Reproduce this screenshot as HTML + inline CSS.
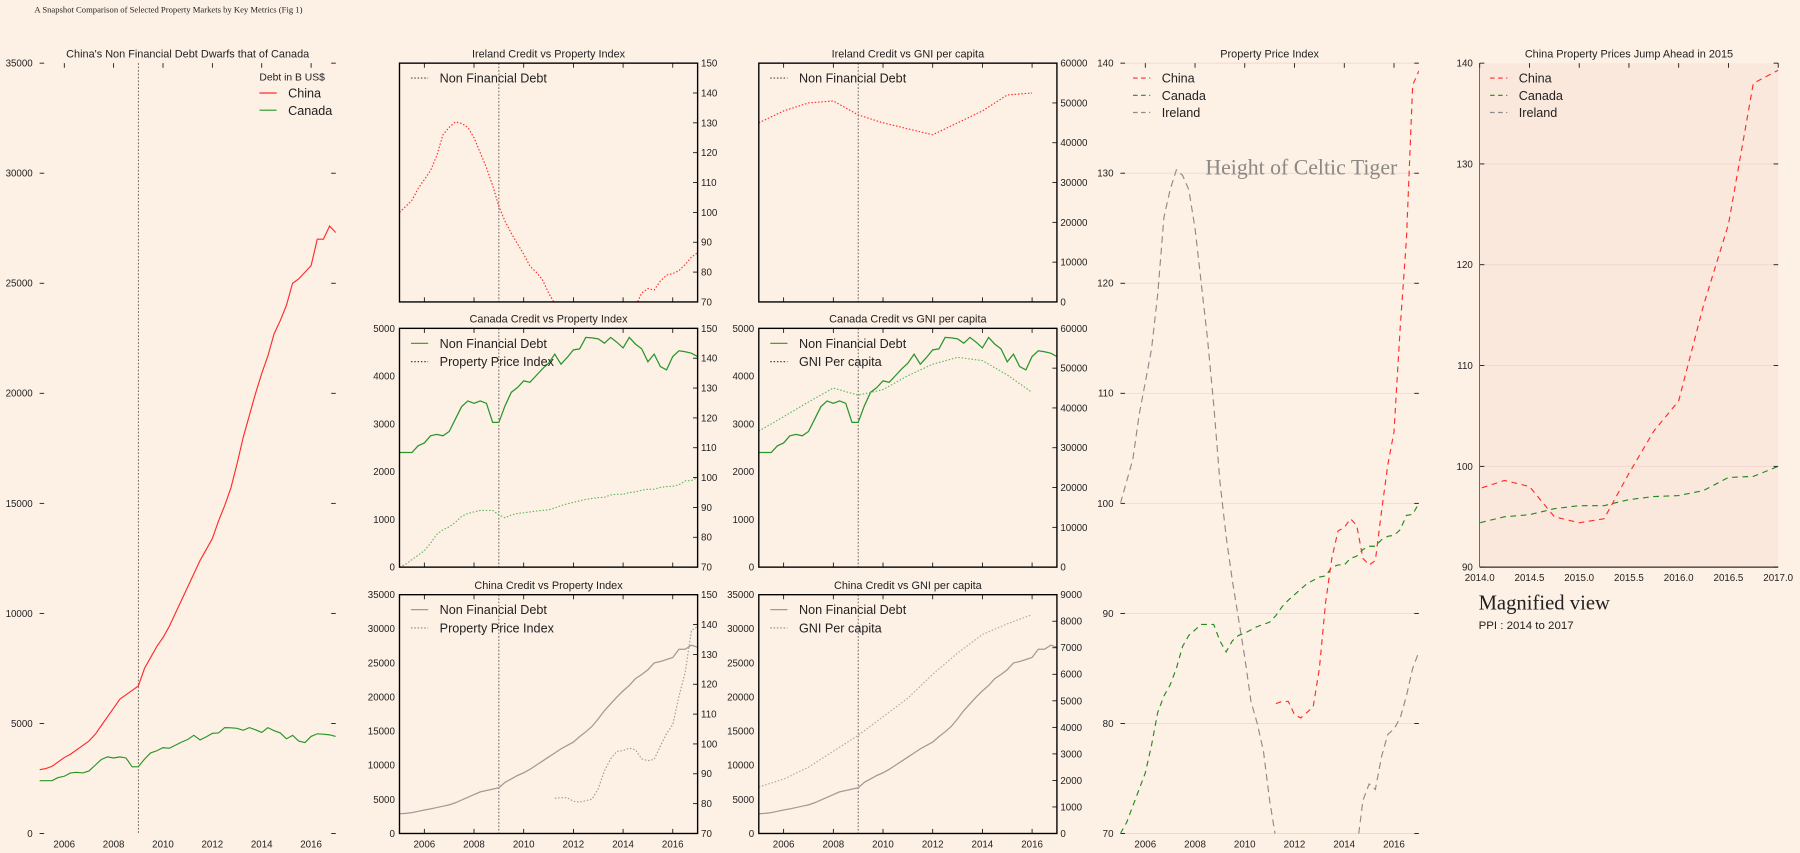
<!DOCTYPE html>
<html><head><meta charset="utf-8">
<style>
html,body{margin:0;padding:0;background:#fdf1e6;width:1800px;height:853px;overflow:hidden;}
svg{display:block;}
text{font-family:"Liberation Sans",sans-serif;fill:#222;}
.serif{font-family:"Liberation Serif",serif;}
</style></head>
<body>
<svg id="fig" xmlns="http://www.w3.org/2000/svg" width="1800" height="853" viewBox="0 0 1568 743" preserveAspectRatio="none">
<rect x="0" y="0" width="1568" height="743" fill="#fdf1e6"/>
<text class="serif" x="30" y="11" font-size="7.5">A Snapshot Comparison of Selected Property Markets by Key Metrics (Fig 1)</text>
</svg>
<script>
const quarters = Array.from({length:49},(_,i)=>2005+i/4);
const years = [2005,2006,2007,2008,2009,2010,2011,2012,2013,2014,2015,2016];
const chinaDebt = [2900,2950,3050,3250,3450,3600,3800,4000,4200,4500,4900,5300,5700,6100,6300,6500,6700,7500,8000,8500,8900,9400,10000,10600,11200,11800,12400,12900,13400,14200,14900,15700,16800,18000,19000,20000,20900,21700,22700,23300,24000,25000,25200,25500,25800,27000,27000,27600,27300];
const canadaDebt = [2400,2400,2400,2540,2600,2750,2780,2750,2840,3100,3360,3480,3430,3480,3430,3030,3030,3380,3660,3760,3900,3870,4010,4150,4270,4460,4250,4390,4550,4570,4810,4800,4780,4690,4810,4710,4590,4810,4670,4570,4300,4460,4200,4130,4410,4530,4510,4480,4410];
const irelandPPI = [100,102,104,108,111,114,119,126,128.5,130.3,129.8,128.5,125,120,115,109,102,97,93,89.5,86,82,80,77.5,73,69.5,67,66,65,64,63,62.5,62,62,62.5,63,64,66,68.5,73,74.5,74,77,79,79.5,80.5,82.5,85,86.5];
const canadaPPI = [70,71,72.5,74,75.5,78,81,82.5,83.5,85,87,88,88.5,89,89,89,87.5,86.5,87.5,88,88.2,88.5,88.8,89,89.2,89.8,90.6,91.2,91.7,92.2,92.7,93,93.3,93.4,94.2,94.4,94.4,95,95.2,95.8,96.1,96.1,96.7,97,97.1,97.6,98.9,99,100];
const chinaPPIQuarters = quarters.slice(25);
const chinaPPI = [81.8,82,82,80.8,80.5,81,81.5,85,91,95,97.5,97.8,98.6,98,95,94.4,94.8,99.3,103.5,106.5,116,124,138,139.3];
const irelandGNI = [45000,48000,50000,50500,47000,45000,43500,42000,45000,48000,52000,52500];
const canadaGNI = [34200,37800,41500,45000,43200,44600,48100,51000,52700,51900,48300,43900];
const chinaGNI = [1750,2050,2500,3100,3700,4400,5100,6000,6800,7500,7900,8250];
const yearTicks = [2006,2008,2010,2012,2014,2016];
const zoomTicks = [2014,2014.5,2015,2015.5,2016,2016.5,2017];

const NS='http://www.w3.org/2000/svg';
const svg=document.getElementById('fig');
let clipN=0;
function el(tag,attrs,parent,name){
  const e=document.createElementNS(NS,tag);
  for(const k in attrs) e.setAttribute(k,attrs[k]);
  
  
  (parent||svg).appendChild(e);
  return e;
}
function txt(x,y,s,size,anchor,parent,name,extra){
  const t=el('text',Object.assign({x:x,y:y,'font-size':size,'text-anchor':anchor||'start'},extra||{}),parent,name);
  t.textContent=s;return t;
}
function axis(o){
  o.sx=v=>o.x0+(v-o.xmin)/(o.xmax-o.xmin)*(o.x1-o.x0);
  o.sy=v=>o.yb-(v-o.ymin)/(o.ymax-o.ymin)*(o.yb-o.yt);
  if(o.ymin2!==undefined) o.sy2=v=>o.yb-(v-o.ymin2)/(o.ymax2-o.ymin2)*(o.yb-o.yt);
  o.g=el('g',{},svg,o.name);
  const id='c'+(clipN++);
  const cp=el('clipPath',{id:id},o.g,'clip-region');
  el('rect',{x:o.x0,y:o.yt,width:o.x1-o.x0,height:o.yb-o.yt},cp,'clip-rect');
  o.clip='url(#'+id+')';
  if(o.bg) el('rect',{x:o.x0,y:o.yt,width:o.x1-o.x0,height:o.yb-o.yt,fill:o.bg},o.g,'plot-background');
  return o;
}
function series(ax,xs,ys,scale,color,dash,w,name){
  let d='';
  for(let i=0;i<ys.length;i++){d+=(i?'L':'M')+ax.sx(xs[i]).toFixed(2)+','+scale(ys[i]).toFixed(2);}
  const p=el('path',{d:d,fill:'none',stroke:color,'stroke-width':w||1,'clip-path':ax.clip},ax.g,name);
  if(dash) p.setAttribute('stroke-dasharray',dash);
  return p;
}
function vline(ax,x){
  el('line',{x1:ax.sx(x),x2:ax.sx(x),y1:ax.yt,y2:ax.yb,stroke:'#444','stroke-width':0.7,'stroke-dasharray':'1.5,1.5'},ax.g,'event-marker-2009');
}
function frame(ax){
  el('rect',{x:ax.x0,y:ax.yt,width:ax.x1-ax.x0,height:ax.yb-ax.yt,fill:'none',stroke:'#000','stroke-width':1.2},ax.g,'plot-frame');
}
function xticks(ax,ticks,labels,fmt){
  ticks.forEach(t=>{
    const x=ax.sx(t);
    el('line',{x1:x,x2:x,y1:ax.yt,y2:ax.yt+4,stroke:'#000','stroke-width':0.7},ax.g,'x-tick');
    if(ax.frame) el('line',{x1:x,x2:x,y1:ax.yb,y2:ax.yb-4,stroke:'#000','stroke-width':0.7},ax.g,'x-tick');
    if(labels) txt(x,ax.yb+12,fmt?fmt(t):String(t),8.5,'middle',ax.g,'x-tick-label');
  });
}
function yticksLeft(ax,ticks,dash){
  ticks.forEach(t=>{
    const y=ax.sy(t);
    if(dash){el('line',{x1:ax.x0,x2:ax.x0+4,y1:y,y2:y,stroke:'#000','stroke-width':0.7},ax.g,'y-tick');
      el('line',{x1:ax.x1-4,x2:ax.x1,y1:y,y2:y,stroke:'#000','stroke-width':0.7},ax.g,'y-tick');}
    txt(ax.x0-(dash?6:4),y+3,String(t),8.5,'end',ax.g,'y-tick-label');
  });
}
function yticksRight(ax,ticks){
  ticks.forEach(t=>{
    const y=ax.sy2(t);
    el('line',{x1:ax.x1-4,x2:ax.x1,y1:y,y2:y,stroke:'#000','stroke-width':0.7},ax.g,'y2-tick');
    txt(ax.x1+3,y+3,String(t),8.5,'start',ax.g,'y2-tick-label');
  });
}
function title(ax,s){txt((ax.x0+ax.x1)/2,ax.yt-5,s,9.5,'middle',ax.g,'panel-title');}
function legend(ax,x,y,items,gap){
  items.forEach((it,i)=>{
    const yy=y+i*(gap||16);
    const l=el('line',{x1:x,x2:x+15,y1:yy,y2:yy,stroke:it.c,'stroke-width':it.w||1},ax.g,'legend-swatch');
    if(it.d) l.setAttribute('stroke-dasharray',it.d);
    txt(x+25,yy+4,it.t,11,'start',ax.g,'legend-entry');
  });
}
const RED='#ff2b2b',GREEN='#2a962a',GRAY='#a39a95',DOT='1.3,1.6';

const a1=axis({name:'china-canada-debt-chart',x0:34.5,x1:292.5,yt:55,yb:726,xmin:2005,xmax:2017,ymin:0,ymax:35000});
title(a1,"China's Non Financial Debt Dwarfs that of Canada");
xticks(a1,yearTicks,true);
yticksLeft(a1,[0,5000,10000,15000,20000,25000,30000,35000],true);
vline(a1,2009);
series(a1,quarters,chinaDebt,a1.sy,RED,null,1,'china-debt-line');
series(a1,quarters,canadaDebt,a1.sy,GREEN,null,1,'canada-debt-line');
txt(226,70,'Debt in B US$',9,'start',a1.g,'legend-title');
legend(a1,226,81,[{t:'China',c:RED},{t:'Canada',c:GREEN}],15);

const colX=[[348,607.7],[661,920.7]];
const rows=[[55,263],[286,494],[518,726]];
function mid(name,c,r,ymax,ymin2,ymax2){
  return axis({name:name,x0:colX[c][0],x1:colX[c][1],yt:rows[r][0],yb:rows[r][1],xmin:2005,xmax:2017,ymin:0,ymax:ymax,ymin2:ymin2,ymax2:ymax2,frame:true});
}
const ppiTicks=[70,80,90,100,110,120,130,140,150];
const gniTicks=[0,10000,20000,30000,40000,50000,60000];

const b1=mid('ireland-credit-property-chart',0,0,1,70,150);
title(b1,'Ireland Credit vs Property Index');vline(b1,2009);
series(b1,quarters,irelandPPI,b1.sy2,RED,DOT,1,'ireland-ppi-line');
frame(b1);xticks(b1,yearTicks,false);yticksRight(b1,ppiTicks);
legend(b1,358,68,[{t:'Non Financial Debt',c:'#444',d:DOT}]);
const c1=mid('ireland-credit-gni-chart',1,0,1,0,60000);
title(c1,'Ireland Credit vs GNI per capita');vline(c1,2009);
series(c1,years,irelandGNI,c1.sy2,RED,DOT,1,'ireland-gni-line');
frame(c1);xticks(c1,yearTicks,false);yticksRight(c1,gniTicks);
legend(c1,671,68,[{t:'Non Financial Debt',c:'#444',d:DOT}]);
const b2=mid('canada-credit-property-chart',0,1,5000,70,150);
title(b2,'Canada Credit vs Property Index');vline(b2,2009);
series(b2,quarters,canadaDebt,b2.sy,GREEN,null,1.1,'canada-debt-line');
series(b2,quarters,canadaPPI,b2.sy2,'#5cb85c',DOT,1,'canada-ppi-line');
frame(b2);xticks(b2,yearTicks,false);yticksLeft(b2,[0,1000,2000,3000,4000,5000]);yticksRight(b2,ppiTicks);
legend(b2,358,299,[{t:'Non Financial Debt',c:GREEN},{t:'Property Price Index',c:'#444',d:DOT}]);
const c2=mid('canada-credit-gni-chart',1,1,5000,0,60000);
title(c2,'Canada Credit vs GNI per capita');vline(c2,2009);
series(c2,quarters,canadaDebt,c2.sy,GREEN,null,1.1,'canada-debt-line');
series(c2,years,canadaGNI,c2.sy2,'#5cb85c',DOT,1,'canada-gni-line');
frame(c2);xticks(c2,yearTicks,false);yticksLeft(c2,[0,1000,2000,3000,4000,5000]);yticksRight(c2,gniTicks);
legend(c2,671,299,[{t:'Non Financial Debt',c:GREEN},{t:'GNI Per capita',c:'#444',d:DOT}]);
const b3=mid('china-credit-property-chart',0,2,35000,70,150);
title(b3,'China Credit vs Property Index');vline(b3,2009);
series(b3,quarters,chinaDebt,b3.sy,GRAY,null,1.1,'china-debt-line');
series(b3,chinaPPIQuarters,chinaPPI,b3.sy2,GRAY,DOT,1,'china-ppi-line');
frame(b3);xticks(b3,yearTicks,true);yticksLeft(b3,[0,5000,10000,15000,20000,25000,30000,35000]);yticksRight(b3,ppiTicks);
legend(b3,358,531,[{t:'Non Financial Debt',c:GRAY},{t:'Property Price Index',c:'#888',d:DOT}]);
const c3=mid('china-credit-gni-chart',1,2,35000,0,9000);
title(c3,'China Credit vs GNI per capita');vline(c3,2009);
series(c3,quarters,chinaDebt,c3.sy,GRAY,null,1.1,'china-debt-line');
series(c3,years,chinaGNI,c3.sy2,'#b0a8a3',DOT,1,'china-gni-line');
frame(c3);xticks(c3,yearTicks,true);yticksLeft(c3,[0,5000,10000,15000,20000,25000,30000,35000]);yticksRight(c3,[0,1000,2000,3000,4000,5000,6000,7000,8000,9000]);
legend(c3,671,531,[{t:'Non Financial Debt',c:GRAY},{t:'GNI Per capita',c:'#888',d:DOT}]);

const a4=axis({name:'property-price-index-chart',x0:976,x1:1236,yt:55,yb:726,xmin:2005,xmax:2017,ymin:70,ymax:140});
title(a4,'Property Price Index');
[70,80,90,100,110,120,130,140].forEach(t=>el('line',{x1:a4.x0,x2:a4.x1,y1:a4.sy(t),y2:a4.sy(t),stroke:'#f1d8cf','stroke-width':0.8},a4.g,'gridline'));
xticks(a4,yearTicks,true);
yticksLeft(a4,[70,80,90,100,110,120,130,140],true);
series(a4,quarters,irelandPPI,a4.sy,'#8f8a87','6,4',1,'ireland-ppi-line');
series(a4,quarters,canadaPPI,a4.sy,'#1e8c1e','5,4',1,'canada-ppi-line');
series(a4,chinaPPIQuarters,chinaPPI,a4.sy,RED,'5,4',1,'china-ppi-line');
legend(a4,987,68,[{t:'China',c:RED,d:'4,3'},{t:'Canada',c:'#1e8c1e',d:'4,3'},{t:'Ireland',c:'#8f8a87',d:'4,3'}],15);
txt(1050,152,'Height of Celtic Tiger',19,'start',a4.g,'celtic-tiger-annotation',{'class':'serif',style:'fill:#8c8884'});

const a5=axis({name:'china-ppi-zoom-chart',x0:1289,x1:1549,yt:55,yb:494,xmin:2014,xmax:2017,ymin:90,ymax:140,bg:'#fbe8dc'});
title(a5,'China Property Prices Jump Ahead in 2015');
[100,110,120,130].forEach(t=>el('line',{x1:a5.x0,x2:a5.x1,y1:a5.sy(t),y2:a5.sy(t),stroke:'#f0d6cc','stroke-width':0.8},a5.g,'gridline'));
el('line',{x1:a5.x0,x2:a5.x1,y1:a5.yb,y2:a5.yb,stroke:'#000','stroke-width':0.8},a5.g,'x-axis-line');
el('line',{x1:a5.x0,x2:a5.x0,y1:a5.yt,y2:a5.yb,stroke:'#000','stroke-width':0.5},a5.g,'y-axis-line');
xticks(a5,zoomTicks,true,t=>t.toFixed(1));
yticksLeft(a5,[90,100,110,120,130,140],true);
series(a5,quarters,irelandPPI,a5.sy,'#8f8a87','6,4',1,'ireland-ppi-line');
series(a5,quarters,canadaPPI,a5.sy,'#1e8c1e','5,4',1,'canada-ppi-line');
series(a5,chinaPPIQuarters,chinaPPI,a5.sy,RED,'5,4',1,'china-ppi-line');
legend(a5,1298,68,[{t:'China',c:RED,d:'4,3'},{t:'Canada',c:'#1e8c1e',d:'4,3'},{t:'Ireland',c:'#8f8a87',d:'4,3'}],15);
txt(1288,531,'Magnified view',18,'start',svg,'magnified-view-label',{'class':'serif'});
txt(1288,548,'PPI : 2014 to 2017',10,'start',svg,'magnified-view-subtitle');
</script>
</body></html>
